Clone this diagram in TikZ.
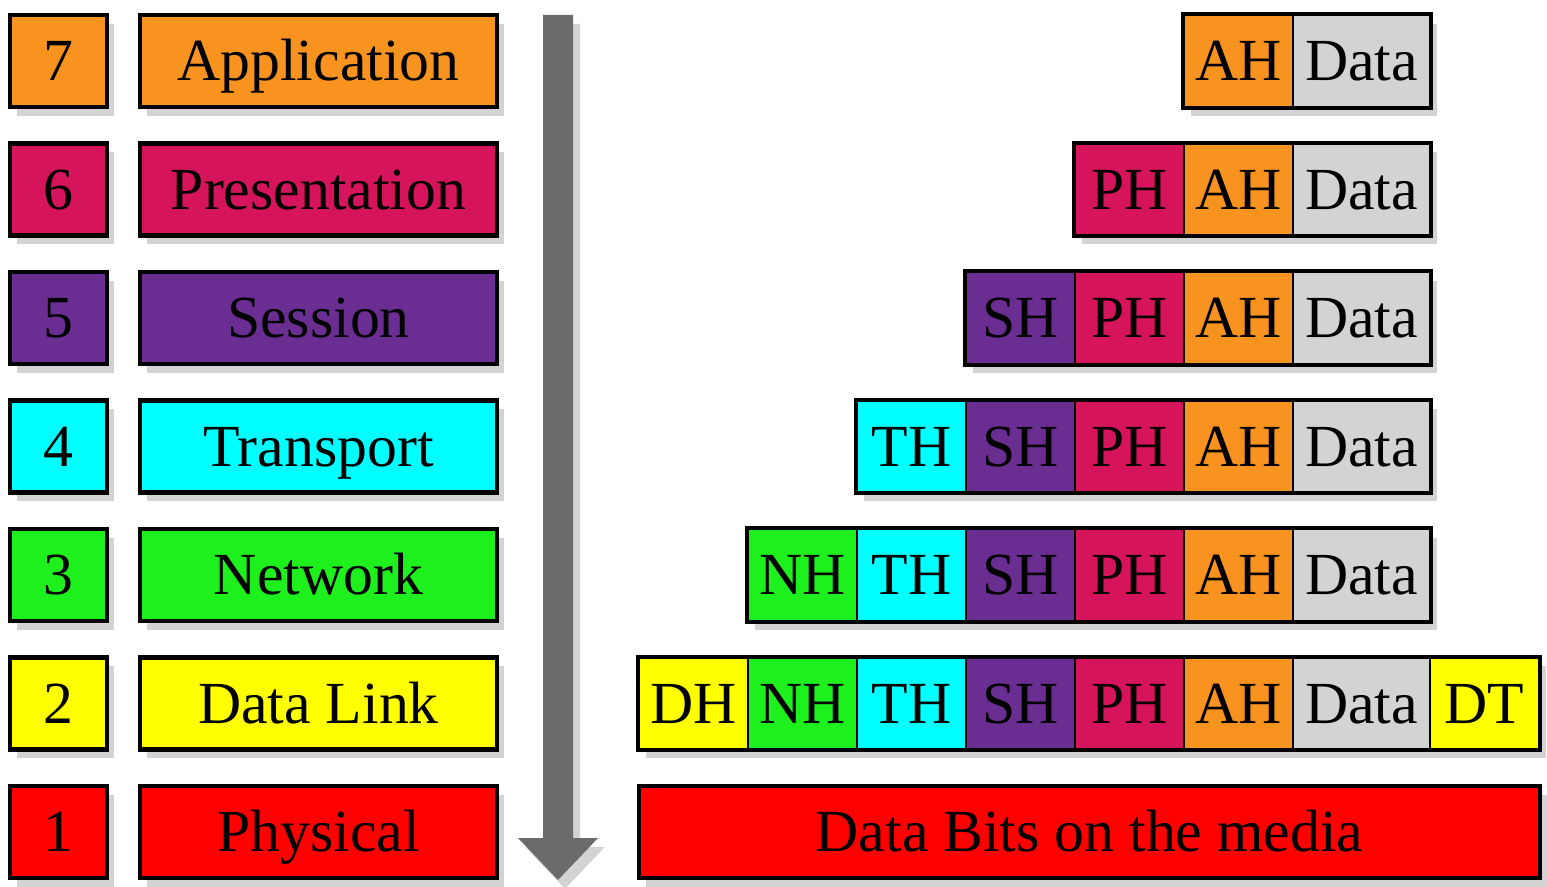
\documentclass[tikz,border=0pt]{standalone}
\usepackage{fontspec}
\setmainfont{Liberation Serif}
\usetikzlibrary{positioning,fit,shadows,backgrounds}

\definecolor{appcol}{HTML}{F7931E}
\definecolor{prescol}{HTML}{D6145B}
\definecolor{sescol}{HTML}{6A2D91}
\definecolor{trancol}{HTML}{00FFFF}
\definecolor{netcol}{HTML}{1EF01E}
\definecolor{linkcol}{HTML}{FFFF00}
\definecolor{physcol}{HTML}{FF0000}
\definecolor{datacol}{HTML}{D3D3D3}
\definecolor{arrowcol}{HTML}{6B6B6B}

\newcommand\layerfont{\fontsize{17}{20}\selectfont}

\tikzset{
  softshadow/.style={drop shadow={shadow xshift=2pt, shadow yshift=-2.5pt, opacity=.35}},
  numbox/.style={draw=black, line width=1.2pt, minimum width=.97cm, minimum height=.92cm,
    inner sep=0pt, font=\layerfont, text height=11.3pt, text depth=0pt, softshadow},
  namebox/.style={numbox, minimum width=3.57cm},
  cell/.style={draw=black, line width=.8pt, minimum width=1.09cm, minimum height=.92cm,
    inner sep=0pt, outer sep=0pt, font=\layerfont, text height=11.3pt, text depth=0pt},
  datacell/.style={cell, fill=datacol, minimum width=1.37cm},
  frame/.style={draw=black, fill=white, line width=1.6pt, inner sep=0pt, softshadow}
}

\begin{document}
\begin{tikzpicture}
      \useasboundingbox (0, 0) rectangle (15.47, 8.86);

      %%L7
      \node[numbox, fill=appcol] (n7) at (.585, 8.25) {7};
      \node[namebox, fill=appcol] (l7) at (3.185, 8.25) {Application};
      %%L6
      \node[numbox, fill=prescol] (n6) at (.585, 6.965) {6};
      \node[namebox, fill=prescol] (l6) at (3.185, 6.965) {Presentation};
      %%L5
      \node[numbox, fill=sescol] (n5) at (.585, 5.68) {5};
      \node[namebox, fill=sescol] (l5) at (3.185, 5.68) {Session};
      %%L4
      \node[numbox, fill=trancol] (n4) at (.585, 4.395) {4};
      \node[namebox, fill=trancol] (l4) at (3.185, 4.395) {Transport};
      %%L3
      \node[numbox, fill=netcol] (n3) at (.585, 3.11) {3};
      \node[namebox, fill=netcol] (l3) at (3.185, 3.11) {Network};
      %%L2
      \node[numbox, fill=linkcol] (n2) at (.585, 1.825) {2};
      \node[namebox, fill=linkcol] (l2) at (3.185, 1.825) {Data Link};
      %%L1
      \node[numbox, fill=physcol] (n1) at (.585, .54) {1};
      \node[namebox, fill=physcol] (l1) at (3.185, .54) {Physical};

      %% down arrow
      \fill[arrowcol, softshadow] (5.43, 8.71) -- (5.73, 8.71) -- (5.73, .48) -- (5.98, .48)
        -- (5.58, .06) -- (5.18, .48) -- (5.43, .48) -- cycle;

      %%P7
      \node[datacell] (d7) at (13.615, 8.25) {Data};
        \node[cell, fill=appcol, left=0pt of d7] (ah7) {AH};
      %%P6
      \node[datacell] (d6) at (13.615, 6.965) {Data};
        \node[cell, fill=appcol, left=0pt of d6] (ah6) {AH};
        \node[cell, fill=prescol, left=0pt of ah6] (ph6) {PH};
      %%P5
      \node[datacell] (d5) at (13.615, 5.68) {Data};
        \node[cell, fill=appcol, left=0pt of d5] (ah5) {AH};
        \node[cell, fill=prescol, left=0pt of ah5] (ph5) {PH};
        \node[cell, fill=sescol, left=0pt of ph5] (sh5) {SH};
      %%P4
      \node[datacell] (d4) at (13.615, 4.395) {Data};
        \node[cell, fill=appcol, left=0pt of d4] (ah4) {AH};
        \node[cell, fill=prescol, left=0pt of ah4] (ph4) {PH};
        \node[cell, fill=sescol, left=0pt of ph4] (sh4) {SH};
        \node[cell, fill=trancol, left=0pt of sh4] (th4) {TH};
      %%P3
      \node[datacell] (d3) at (13.615, 3.11) {Data};
        \node[cell, fill=appcol, left=0pt of d3] (ah3) {AH};
        \node[cell, fill=prescol, left=0pt of ah3] (ph3) {PH};
        \node[cell, fill=sescol, left=0pt of ph3] (sh3) {SH};
        \node[cell, fill=trancol, left=0pt of sh3] (th3) {TH};
        \node[cell, fill=netcol, left=0pt of th3] (nh3) {NH};
      %%P2
      \node[datacell] (d2) at (13.615, 1.825) {Data};
        \node[cell, fill=appcol, left=0pt of d2] (ah2) {AH};
        \node[cell, fill=prescol, left=0pt of ah2] (ph2) {PH};
        \node[cell, fill=sescol, left=0pt of ph2] (sh2) {SH};
        \node[cell, fill=trancol, left=0pt of sh2] (th2) {TH};
        \node[cell, fill=netcol, left=0pt of th2] (nh2) {NH};
        \node[cell, fill=linkcol, left=0pt of nh2] (dh2) {DH};
        \node[cell, fill=linkcol, right=0pt of d2] (dt2) {DT};
      %%P1
      \node[numbox, fill=physcol, minimum width=9.01cm] (bits) at (10.895, .54) {Data Bits on the media};

      %% packet frames
      \begin{scope}[on background layer]
        \node[frame, fit=(ah7)(d7)] (f7) {};
        \node[frame, fit=(ph6)(d6)] (f6) {};
        \node[frame, fit=(sh5)(d5)] (f5) {};
        \node[frame, fit=(th4)(d4)] (f4) {};
        \node[frame, fit=(nh3)(d3)] (f3) {};
        \node[frame, fit=(dh2)(dt2)] (f2) {};
      \end{scope}
\end{tikzpicture}
\end{document}
